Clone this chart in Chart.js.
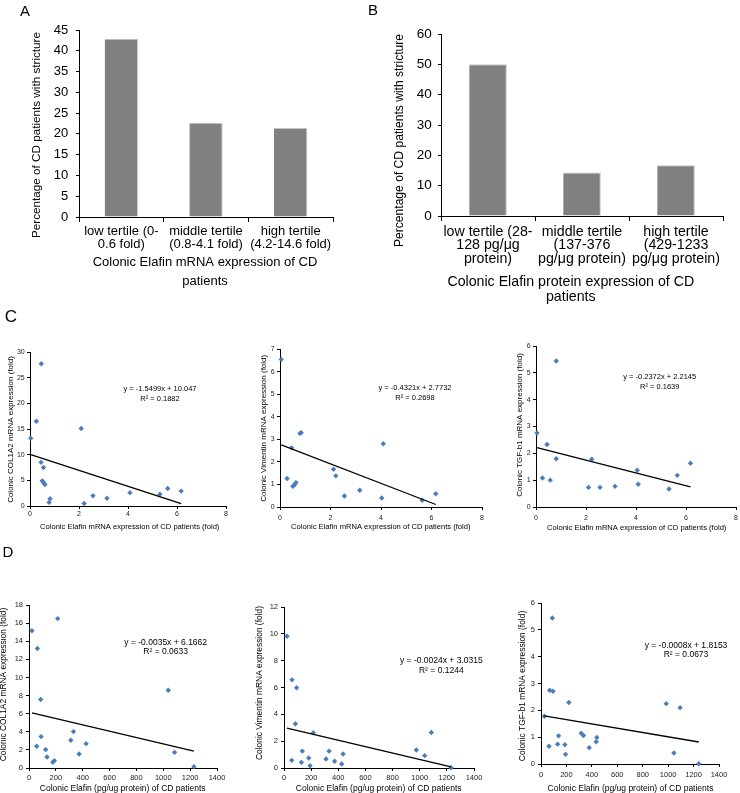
<!DOCTYPE html>
<html><head><meta charset="utf-8">
<script src="https://cdn.jsdelivr.net/npm/chart.js@4.4.1/dist/chart.umd.min.js"></script>
<style>
html,body{margin:0;padding:0;background:#fff;width:740px;height:793px;overflow:hidden;position:relative;}
canvas{position:absolute;}
</style></head><body>
<script>
const FONT = "'Liberation Sans', Arial, sans-serif";

// ---------- Panel A ----------
const catsA = [["low tertile (0-","0.6 fold)"],["middle tertile","(0.8-4.1 fold)"],["high tertile","(4.2-14.6 fold)"]];
const valsA = [42.9, 22.7, 21.4];
// ---------- Panel B ----------
const catsB = [["low tertile (28-","128 pg/\u03bcg","protein)"],["middle tertile","(137-376","pg/\u03bcg protein)"],["high tertile","(429-1233","pg/\u03bcg protein)"]];
const valsB = [50.0, 14.3, 16.7];

// ---------- Panel C (Elafin mRNA, fold) ----------
const c1x = [0.03,0.46,0.26,0.45,0.55,0.50,0.55,0.61,0.82,0.78,2.09,2.21,2.57,3.14,4.08,5.30,5.62,6.17];
const c1y = [13.2,27.7,16.5,8.5,7.5,4.9,4.6,4.2,1.4,0.7,15.1,0.5,2.0,1.5,2.6,2.3,3.4,2.9];
const c1TrendX = [0.03, 6.17];
const c1TrendY = [10.00, 0.48];

const c2x = [0.05,0.28,0.46,0.51,0.58,0.63,0.79,0.84,2.12,2.21,2.55,3.16,4.03,4.09,5.63,6.17];
const c2y = [6.54,1.26,2.62,0.92,0.99,1.08,3.26,3.29,1.67,1.38,0.49,0.74,0.40,2.80,0.30,0.59];
const c2TrendX = [0.05, 6.17];
const c2TrendY = [2.75, 0.11];

const c3x = [0.04,0.81,0.44,0.81,0.26,0.57,2.10,2.23,2.56,3.16,4.05,4.09,5.32,5.65,6.18];
const c3y = [2.76,5.44,2.33,1.80,1.08,1.00,0.73,1.78,0.73,0.77,1.37,0.85,0.67,1.18,1.63];
const c3TrendX = [0.04, 6.18];
const c3TrendY = [2.21, 0.75];

// ---------- Panel D (Elafin protein, pg/ug) ----------
const d1x = [22,214,62,87,90,57,124,134,177,189,311,331,373,425,1037,1084,1228];
const d1y = [15.16,16.5,13.2,7.56,3.47,2.4,2.03,1.22,0.63,0.81,3.06,4.02,1.55,2.69,8.59,1.73,0.15];
const d1TrendX = [22, 1228];
const d1TrendY = [6.09, 1.87];

const d2x = [22,59,93,84,57,128,135,182,192,216,310,332,373,425,435,975,1037,1086,1231];
const d2y = [9.82,6.57,5.98,3.30,0.57,0.42,1.26,0.74,0.17,2.63,0.67,1.26,0.50,0.30,1.04,1.34,0.92,2.65,0.02];
const d2TrendX = [22, 1231];
const d2TrendY = [2.98, 0.08];

const d3x = [89,68,94,219,26,138,131,63,188,193,316,334,379,434,439,985,1094,1045,1241];
const d3y = [5.44,2.75,2.71,2.29,1.78,1.05,0.74,0.66,0.72,0.36,1.15,1.06,0.61,0.83,0.99,2.25,2.10,0.41,0.01];
const d3TrendX = [26, 1241];
const d3TrendY = [1.79, 0.82];

function pts(xs, ys){ return xs.map((x,i)=>({x:x, y:ys[i]})); }

function textPlugin(items, ox, oy){
  return {id:'txt', afterDraw(chart){
    const ctx = chart.ctx;
    for (const it of items){
      ctx.save();
      ctx.font = (it.weight||'normal')+' '+it.size+'px '+(it.family||FONT);
      ctx.fillStyle = it.color||'#000';
      ctx.textAlign = it.align||'center';
      ctx.textBaseline = 'middle';
      ctx.translate(it.x-ox, it.y-oy);
      if (it.rot) ctx.rotate(it.rot*Math.PI/180);
      ctx.fillText(it.text,0,0);
      ctx.restore();
    }
  }};
}

function makePanel(cv, plot, type, data, xOpt, yOpt, texts){
  const c = document.createElement('canvas');
  const w = cv.r-cv.l, h = cv.b-cv.t;
  c.style.left = cv.l+'px'; c.style.top = cv.t+'px';
  c.style.width = w+'px'; c.style.height = h+'px';
  c.width = w; c.height = h;
  document.body.appendChild(c);
  const L = plot.x0-cv.l, T = plot.y0-cv.t, R = cv.r-plot.x1, B = cv.b-plot.y1;
  xOpt.afterFit = s => { s.height = B; s.paddingLeft=0; s.paddingRight=0; s.paddingTop=0; s.paddingBottom=0; };
  yOpt.afterFit = s => { s.width = L; s.paddingLeft=0; s.paddingRight=0; s.paddingTop=0; s.paddingBottom=0; };
  new Chart(c, {
    type: type, data: data,
    options: {
      responsive:false, animation:false, devicePixelRatio:1,
      layout:{padding:{top:T, right:R, left:0, bottom:0}},
      plugins:{legend:{display:false}, tooltip:{enabled:false}},
      scales:{x:xOpt, y:yOpt}
    },
    plugins:[textPlugin(texts, cv.l, cv.t)]
  });
}

const plainNum = v => String(v);

function barX(size, lh, pad){
  return {type:'category', offset:true,
    grid:{display:true, offset:true, drawOnChartArea:false, drawTicks:true, tickLength:5, color:'#000', tickColor:'#000', tickWidth:1},
    border:{display:true, color:'#000', width:1},
    ticks:{font:{family:FONT, size:size, lineHeight:lh}, color:'#000', padding:pad, autoSkip:false, maxRotation:0, minRotation:0}};
}
function barY(max, step, size, pad){
  return {type:'linear', min:0, max:max,
    grid:{display:true, drawOnChartArea:false, drawTicks:true, tickLength:3, color:'#000', tickColor:'#000'},
    border:{display:true, color:'#000', width:1},
    ticks:{stepSize:step, font:{family:FONT, size:size}, color:'#000', padding:pad, callback:plainNum}};
}
function scX(max, step, size, pad){
  return {type:'linear', min:0, max:max,
    grid:{display:true, drawOnChartArea:false, drawTicks:true, tickLength:3, color:'#000', tickColor:'#000'},
    border:{display:true, color:'#000', width:1},
    ticks:{stepSize:step, font:{family:FONT, size:size}, color:'#222', padding:pad, autoSkip:false, maxRotation:0, minRotation:0, callback:plainNum}};
}
function scY(max, step, size, pad){
  return {type:'linear', min:0, max:max,
    grid:{display:true, drawOnChartArea:false, drawTicks:true, tickLength:3, color:'#000', tickColor:'#000'},
    border:{display:true, color:'#000', width:1},
    ticks:{stepSize:step, font:{family:FONT, size:size}, color:'#222', padding:pad, callback:plainNum}};
}
function barData(cats, vals, pct){
  return {labels:cats, datasets:[{data:vals, backgroundColor:'#808080', borderColor:'#c4c4c4',
    borderWidth:{top:1,right:1,left:0,bottom:0}, borderSkipped:false, barPercentage:pct, categoryPercentage:1}]};
}
function scData(xs, ys, tx, ty){
  return {datasets:[
    {type:'line', data:pts(tx,ty), borderColor:'#000', borderWidth:1.3, pointRadius:0, fill:false, tension:0, clip:false},
    {type:'scatter', data:pts(xs,ys), pointStyle:'rectRot', pointRadius:2.7, backgroundColor:'#4a7ebb', borderColor:'#4a7ebb', borderWidth:0, clip:false}
  ]};
}

// Panel A
makePanel({l:0,t:0,r:362,b:300},{x0:79,y0:30,x1:333,y1:217},'bar',barData(catsA,valsA,0.393),
  barX(13,1.0,3.2), barY(45,5,13,7.7),
  [{x:25,y:12,text:'A',size:15},
   {x:36.7,y:135,text:'Percentage of CD patients with stricture',size:11.7,rot:-90},
   {x:205,y:262.7,text:'Colonic Elafin mRNA expression of CD',size:13},
   {x:205,y:281,text:'patients',size:13}]);

// Panel B
makePanel({l:362,t:0,r:740,b:310},{x0:441,y0:34,x1:723,y1:216},'bar',barData(catsB,valsB,0.4),
  barX(14.2,0.94,4.3), barY(60,10,13.5,6.3),
  [{x:373,y:11,text:'B',size:15},
   {x:399.3,y:140.5,text:'Percentage of CD patients with stricture',size:12.1,rot:-90},
   {x:570.8,y:282,text:'Colonic Elafin protein expression of CD',size:14.2},
   {x:570.8,y:297.3,text:'patients',size:14.2}]);

// Panel C1
makePanel({l:0,t:300,r:250,b:535},{x0:30,y0:352,x1:226,y1:506},'scatter',scData(c1x,c1y,c1TrendX,c1TrendY),
  scX(8,2,7,0.5), scY(30,5,7,2.3),
  [{x:11,y:317,text:'C',size:17},
   {x:11,y:429.5,text:'Colonic COL1A2 mRNA expression (fold)',size:8,rot:-90},
   {x:129.7,y:526.7,text:'Colonic Elafin mRNA expression of CD patients (fold)',size:7.6},
   {x:160,y:389,text:'y = -1.5499x + 10.047',size:7.5},
   {x:160,y:399,text:'R\u00b2 = 0.1882',size:7.5}]);

// Panel C2
makePanel({l:250,t:330,r:495,b:535},{x0:280,y0:349,x1:482,y1:507},'scatter',scData(c2x,c2y,c2TrendX,c2TrendY),
  scX(8,2,7,3.5), scY(7,1,7,2.3),
  [{x:263.3,y:428.3,text:'Colonic Vimentin mRNA expression (fold)',size:8,rot:-90},
   {x:380.8,y:526.7,text:'Colonic Elafin mRNA expression of CD patients (fold)',size:7.6},
   {x:415,y:388.3,text:'y = -0.4321x + 2.7732',size:7.5},
   {x:415,y:397.5,text:'R\u00b2 = 0.2698',size:7.5}]);

// Panel C3
makePanel({l:495,t:330,r:740,b:535},{x0:536,y0:346,x1:738,y1:507},'scatter',scData(c3x,c3y,c3TrendX,c3TrendY),
  scX(8,2,7,3.5), scY(6,1,7,2.3),
  [{x:519.3,y:425,text:'Colonic TGF-b1 mRNA expression (fold)',size:8,rot:-90},
   {x:636.7,y:528,text:'Colonic Elafin mRNA expression of CD patients (fold)',size:7.6},
   {x:659.7,y:376.7,text:'y = -0.2372x + 2.2145',size:7.5},
   {x:659.7,y:386.7,text:'R\u00b2 = 0.1639',size:7.5}]);

// Panel D1
makePanel({l:0,t:540,r:250,b:793},{x0:29,y0:605,x1:217,y1:768},'scatter',scData(d1x,d1y,d1TrendX,d1TrendY),
  scX(1400,200,7.5,2.5), scY(18,2,7.5,3),
  [{x:8,y:553,text:'D',size:15},
   {x:4,y:684.5,text:'Colonic COL1A2 mRNA expression (fold)',size:8.4,rot:-90},
   {x:122.7,y:788.3,text:'Colonic Elafin (pg/ug protein) of CD patients',size:8.5},
   {x:165.7,y:642.3,text:'y = -0.0035x + 6.1662',size:8.5},
   {x:165.7,y:651.7,text:'R\u00b2 = 0.0633',size:8.5}]);

// Panel D2
makePanel({l:250,t:585,r:495,b:793},{x0:284,y0:607,x1:474,y1:768},'scatter',scData(d2x,d2y,d2TrendX,d2TrendY),
  scX(1400,200,7.5,2.5), scY(12,2,7.5,3),
  [{x:260,y:683,text:'Colonic Vimentin mRNA expression (fold)',size:8.4,rot:-90},
   {x:378.7,y:788.3,text:'Colonic Elafin (pg/ug protein) of CD patients',size:8.5},
   {x:441.3,y:661,text:'y = -0.0024x + 3.0315',size:8.5},
   {x:441.3,y:670.3,text:'R\u00b2 = 0.1244',size:8.5}]);

// Panel D3
makePanel({l:495,t:585,r:740,b:793},{x0:541,y0:603,x1:719,y1:764},'scatter',scData(d3x,d3y,d3TrendX,d3TrendY),
  scX(1400,200,7.5,3.5), scY(6,1,7.5,3),
  [{x:522.3,y:686,text:'Colonic TGF-b1 mRNA expression (fold)',size:8.4,rot:-90},
   {x:630.5,y:788.3,text:'Colonic Elafin (pg/ug protein) of CD patients',size:8.5},
   {x:686,y:645.3,text:'y = -0.0008x + 1.8153',size:8.5},
   {x:686,y:655,text:'R\u00b2 = 0.0673',size:8.5}]);
</script>
</body></html>
